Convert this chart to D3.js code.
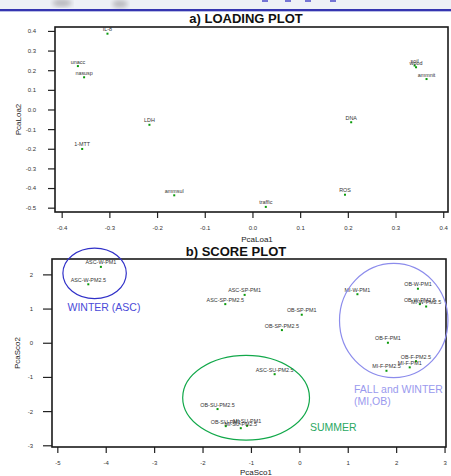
<!DOCTYPE html>
<html>
<head>
<meta charset="utf-8">
<script src="https://cdn.jsdelivr.net/npm/d3@7/dist/d3.min.js"></script>
<style>
  body { margin: 0; background: #fff; }
  svg { display: block; font-family: 'Liberation Sans', Arial, sans-serif; }
</style>
</head>
<body>
<div id="chart"></div>
<script>
// a) loading plot
const loadingNames = ['IL-8', 'unacc', 'nasusp', 'LDH', '1-MTT', 'ammsul', 'traffic', 'ROS', 'DNA', 'soil', 'wood', 'ammnit'];
const loadingPc1 = [-0.304, -0.366, -0.353, -0.216, -0.357, -0.164, 0.028, 0.194, 0.207, 0.340, 0.343, 0.365];
const loadingPc2 = [0.386, 0.221, 0.164, -0.078, -0.201, -0.437, -0.496, -0.434, -0.065, 0.224, 0.215, 0.155];
const loadingXTicks = [-0.4, -0.3, -0.2, -0.1, 0.0, 0.1, 0.2, 0.3, 0.4];
const loadingYTicks = [-0.5, -0.4, -0.3, -0.2, -0.1, 0.0, 0.1, 0.2, 0.3, 0.4];

// b) score plot
const scoreNames = ['ASC-W-PM1', 'ASC-W-PM2.5', 'ASC-SP-PM1', 'ASC-SP-PM2.5', 'OB-SP-PM1', 'OB-SP-PM2.5',
  'MI-W-PM1', 'OB-W-PM1', 'OB-W-PM2.5', 'MI-W-PM2.5', 'OB-F-PM1', 'OB-F-PM2.5', 'MI-F-PM1', 'MI-F-PM2.5',
  'ASC-SU-PM2.5', 'OB-SU-PM2.5', 'OB-SU-PM1', 'MI-SU-PM2.5', 'MI-SU-PM1'];
const scorePc1 = [-4.10, -4.36, -1.13, -1.53, 0.05, -0.36, 1.20, 2.45, 2.49, 2.62, 1.83, 2.41, 2.28, 1.80,
  -0.51, -1.69, -1.52, -1.21, -1.08];
const scorePc2 = [2.22, 1.71, 1.40, 1.13, 0.82, 0.37, 1.42, 1.58, 1.13, 1.06, 0.00, -0.54, -0.72, -0.82,
  -0.92, -1.94, -2.44, -2.50, -2.43];
const scoreXTicks = [-5, -4, -3, -2, -1, 0, 1, 2, 3];
const scoreYTicks = [-3, -2, -1, 0, 1, 2];

// season groups circled on the score plot (centre and half-widths in score units)
const groupNames = ['WINTER (ASC)', 'SUMMER', 'FALL and WINTER|(MI,OB)'];
const groupPc1 = [-4.23, -1.10, 1.95];
const groupPc2 = [2.03, -1.61, 0.65];
const groupHalfPc1 = [0.655, 1.31, 1.12];
const groupHalfPc2 = [0.74, 1.24, 1.67];

const W = 451;
const H = 476;

const svg = d3.select('#chart')
  .append('svg')
  .attr('width', W)
  .attr('height', H);

// slide header remnant
const defs = svg.append('defs');
defs.append('filter').attr('id', 'blur')
  .append('feGaussianBlur').attr('stdDeviation', 2.5);
svg.append('rect').attr('x', 0).attr('y', 0).attr('width', W).attr('height', 10).attr('fill', '#eef1f6');
[[62, 3, 10], [120, 4, 8]].forEach(([cx, cy, r]) => {
  svg.append('ellipse').attr('cx', cx).attr('cy', cy).attr('rx', r).attr('ry', 4)
    .attr('fill', '#b9b9be').attr('filter', 'url(#blur)');
});
[262, 285, 305, 330].forEach((x) => {
  svg.append('rect').attr('x', x).attr('y', 0).attr('width', 6).attr('height', 2).attr('fill', '#7474d4');
});
svg.append('rect').attr('x', 0).attr('y', 9).attr('width', W).attr('height', 2).attr('fill', '#3535b0');
svg.append('rect').attr('x', 0).attr('y', 11).attr('width', W).attr('height', 1).attr('fill', '#b8bde6');

function drawPanel(cfg) {
  const g = svg.append('g');

  const x = d3.scaleLinear().domain(cfg.xDomain).range([cfg.left, cfg.right]);
  const y = d3.scaleLinear().domain(cfg.yDomain).range([cfg.bottom, cfg.top]);

  g.append('text')
    .attr('x', cfg.titleX)
    .attr('y', cfg.titleY)
    .attr('text-anchor', 'middle')
    .attr('font-size', 13)
    .attr('font-weight', 'bold')
    .attr('fill', '#111')
    .text(cfg.title);

  const xAxis = g.append('g')
    .attr('transform', `translate(0,${cfg.bottom})`)
    .call(d3.axisBottom(x).tickValues(cfg.xTicks).tickSize(6).tickSizeOuter(0)
      .tickPadding(cfg.xPad).tickFormat(cfg.fmt));

  const yAxis = g.append('g')
    .attr('transform', `translate(${cfg.left},0)`)
    .call(d3.axisLeft(y).tickValues(cfg.yTicks).tickSize(cfg.yTickSize).tickSizeOuter(0)
      .tickPadding(cfg.yPad).tickFormat(cfg.fmt));

  [xAxis, yAxis].forEach((a) => {
    a.select('.domain').remove();
    a.selectAll('.tick line').attr('stroke', '#222').attr('stroke-width', 1.2);
    a.selectAll('.tick text').attr('font-size', 6).attr('fill', '#333')
      .attr('font-family', 'Liberation Sans, Arial, sans-serif');
  });

  g.append('rect')
    .attr('x', cfg.left)
    .attr('y', cfg.top)
    .attr('width', cfg.right - cfg.left)
    .attr('height', cfg.bottom - cfg.top)
    .attr('fill', 'none')
    .attr('stroke', '#1a1a1a')
    .attr('stroke-width', 1.6);

  g.append('text')
    .attr('x', cfg.xTitleX)
    .attr('y', cfg.xTitleY)
    .attr('text-anchor', 'middle')
    .attr('font-size', 8)
    .attr('fill', '#222')
    .text(cfg.xTitle);

  g.append('text')
    .attr('transform', `translate(${cfg.yTitleX},${(cfg.top + cfg.bottom) / 2}) rotate(-90)`)
    .attr('text-anchor', 'middle')
    .attr('font-size', 8)
    .attr('fill', '#222')
    .text(cfg.yTitle);

  const pts = cfg.names.map((name, i) => ({ name, pc1: cfg.pc1[i], pc2: cfg.pc2[i] }));

  g.selectAll('.pt')
    .data(pts)
    .join('rect')
    .attr('class', 'pt')
    .attr('x', (d) => x(d.pc1) - 1)
    .attr('y', (d) => y(d.pc2) - 1)
    .attr('width', 2)
    .attr('height', 2)
    .attr('fill', '#0a9a0a');

  g.selectAll('.pt-label')
    .data(pts)
    .join('text')
    .attr('class', 'pt-label')
    .attr('x', (d) => x(d.pc1))
    .attr('y', (d) => y(d.pc2) - 2.5)
    .attr('text-anchor', 'middle')
    .attr('font-size', 5.4)
    .attr('fill', '#333')
    .text((d) => d.name);

  return { g, x, y };
}

drawPanel({
  title: 'a) LOADING PLOT',
  titleX: 246,
  titleY: 23,
  left: 55,
  right: 448,
  top: 27,
  bottom: 212,
  xDomain: [-0.414, 0.41],
  yDomain: [-0.522, 0.42],
  xTicks: loadingXTicks,
  yTicks: loadingYTicks,
  yTickSize: 7,
  xPad: 8,
  yPad: 12,
  fmt: (d) => d.toFixed(1),
  xTitle: 'PcaLoa1',
  xTitleX: 257,
  xTitleY: 242,
  yTitle: 'PcaLoa2',
  yTitleX: 21,
  names: loadingNames,
  pc1: loadingPc1,
  pc2: loadingPc2,
});

const score = drawPanel({
  title: 'b) SCORE PLOT',
  titleX: 236,
  titleY: 256,
  left: 52,
  right: 446,
  top: 259,
  bottom: 447,
  xDomain: [-5.11, 3.03],
  yDomain: [-3.05, 2.45],
  xTicks: scoreXTicks,
  yTicks: scoreYTicks,
  yTickSize: 9,
  xPad: 8,
  yPad: 10,
  fmt: (d) => String(d),
  xTitle: 'PcaSco1',
  xTitleX: 256,
  xTitleY: 475,
  yTitle: 'PcaSco2',
  yTitleX: 20,
  names: scoreNames,
  pc1: scorePc1,
  pc2: scorePc2,
});

const groupStyle = [
  { stroke: '#3030c8', text: '#4a4ad8', labelX: -4.79, labelY: 0.92 },
  { stroke: '#12a84a', text: '#2aa862', labelX: 0.22, labelY: -2.58 },
  { stroke: '#8c8cec', text: '#9a9aee', labelX: 1.13, labelY: -1.46 },
];

const groups = groupNames.map((name, i) => ({
  name, cx: groupPc1[i], cy: groupPc2[i], rx: groupHalfPc1[i], ry: groupHalfPc2[i], style: groupStyle[i],
}));

score.g.selectAll('.group-ellipse')
  .data(groups)
  .join('ellipse')
  .attr('class', 'group-ellipse')
  .attr('cx', (d) => score.x(d.cx))
  .attr('cy', (d) => score.y(d.cy))
  .attr('rx', (d) => score.x(d.cx + d.rx) - score.x(d.cx))
  .attr('ry', (d) => score.y(d.cy) - score.y(d.cy + d.ry))
  .attr('fill', 'none')
  .attr('stroke', (d) => d.style.stroke)
  .attr('stroke-width', 1.2);

score.g.selectAll('.group-label')
  .data(groups)
  .join('text')
  .attr('class', 'group-label')
  .attr('x', (d) => score.x(d.style.labelX))
  .attr('y', (d) => score.y(d.style.labelY))
  .attr('font-size', 10.5)
  .attr('fill', (d) => d.style.text)
  .each(function (d) {
    const lines = d.name.split('|');
    d3.select(this).selectAll('tspan')
      .data(lines)
      .join('tspan')
      .attr('x', score.x(d.style.labelX))
      .attr('dy', (l, j) => (j === 0 ? 0 : 12.7))
      .text((l) => l);
  });
</script>
</body>
</html>
